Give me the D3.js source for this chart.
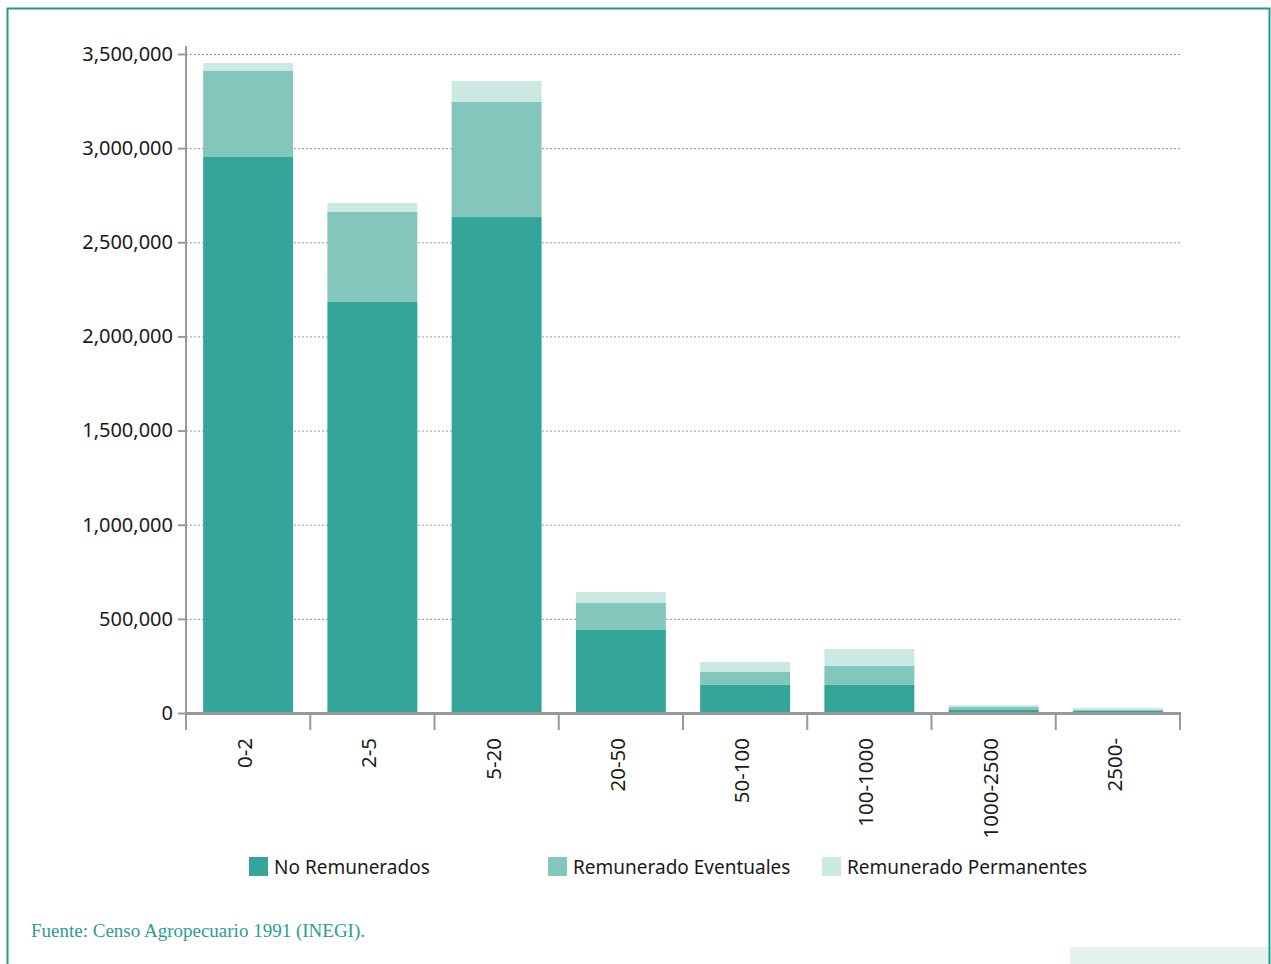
<!DOCTYPE html>
<html><head><meta charset="utf-8">
<script src="https://cdn.jsdelivr.net/npm/d3@7"></script>
<style>
html,body{margin:0;padding:0;background:#fff;}
svg{display:block;}
</style></head>
<body>
<svg id="chart" width="1271" height="964"></svg>
<script>
const categories = ["0-2","2-5","5-20","20-50","50-100","100-1000","1000-2500","2500-"];
const seriesNames = ["No Remunerados","Remunerado Eventuales","Remunerado Permanentes"];
const noRemunerados = [2953000, 2183000, 2634000, 441000, 149000, 149000, 16000, 11000];
const eventuales    = [ 457000,  478000,  611000, 143000,  69000, 101000, 16000,  5000];
const permanentes   = [  42000,   48000,  112000,  58000,  53000,  90000, 10000, 11000];
const yTicks = [0, 500000, 1000000, 1500000, 2000000, 2500000, 3000000, 3500000];
const colors = ["#33a599", "#82c6bc", "#cce8e3"];
const sourceText = "Fuente: Censo Agropecuario 1991 (INEGI).";

const svg = d3.select("#chart");
const font = "'Noto Sans', 'Open Sans', sans-serif";

// frame
svg.append("rect").attr("x",1070).attr("y",947).attr("width",200).attr("height",20).attr("fill","#e5f3f0");
svg.append("path").attr("d","M7.5,964 L7.5,8.5 L1269.5,8.5 L1269.5,964")
  .attr("fill","none").attr("stroke","#1f9a8b").attr("stroke-width",2);

const x0 = 186, x1 = 1180, yBase = 713, yTop = 54;
const x = d3.scaleBand().domain(categories).range([x0, x1]).paddingInner(0.276).paddingOuter(0.138);
const y = d3.scaleLinear().domain([0, 3500000]).range([yBase, yTop]);

// gridlines
svg.append("g").selectAll("line").data(yTicks.filter(d=>d>0)).join("line")
  .attr("x1", x0).attr("x2", x1).attr("y1", d=>y(d)+0.5).attr("y2", d=>y(d)+0.5)
  .attr("stroke","#9a9a9a").attr("stroke-width",1).attr("stroke-dasharray","2,2");

// stacked bars
const rows = categories.map((c,i)=>({cat:c, "No Remunerados":noRemunerados[i], "Remunerado Eventuales":eventuales[i], "Remunerado Permanentes":permanentes[i]}));
const stacked = d3.stack().keys(seriesNames)(rows);
svg.append("g").selectAll("g").data(stacked).join("g").attr("fill",(d,i)=>colors[i])
  .selectAll("rect").data(d=>d).join("rect")
  .attr("x", d=>x(d.data.cat)).attr("width", x.bandwidth())
  .attr("y", d=>y(d[1])).attr("height", d=>y(d[0])-y(d[1]));

// y axis
const yAxis = svg.append("g").attr("transform",`translate(${x0},0)`)
  .call(d3.axisLeft(y).tickValues(yTicks).tickFormat(d3.format(",")).tickSize(8).tickPadding(5));
yAxis.select(".domain").remove();
yAxis.selectAll(".tick line").attr("stroke","#999").attr("stroke-width",2);
yAxis.selectAll("text").attr("font-family",font).attr("font-size",20).attr("fill","#1a1a1a");
svg.append("line").attr("x1",x0).attr("x2",x0).attr("y1",46).attr("y2",730)
  .attr("stroke","#999").attr("stroke-width",2);

// x axis
svg.append("line").attr("x1",x0).attr("x2",x1+1).attr("y1",yBase+0.5).attr("y2",yBase+0.5)
  .attr("stroke","#999").attr("stroke-width",3);
const step = x.step();
const bounds = d3.range(categories.length+1).map(i=>x0+i*step);
svg.append("g").selectAll("line").data(bounds).join("line")
  .attr("x1",d=>d).attr("x2",d=>d).attr("y1",yBase).attr("y2",730)
  .attr("stroke","#999").attr("stroke-width",2);
svg.append("g").selectAll("text").data(categories).join("text")
  .attr("transform", d=>`translate(${x(d)+x.bandwidth()/2+4},738) rotate(-90)`)
  .attr("text-anchor","end")
  .attr("font-family",font).attr("font-size",20.5).attr("fill","#1a1a1a")
  .text(d=>d);

// legend
const legendX = [249, 548, 822];
const lg = svg.append("g").selectAll("g").data(seriesNames).join("g")
  .attr("transform",(d,i)=>`translate(${legendX[i]},857)`);
lg.append("rect").attr("width",19).attr("height",19).attr("fill",(d,i)=>colors[i]);
lg.append("text").attr("x",25).attr("y",17).attr("font-family",font).attr("font-size",19)
  .attr("fill","#1a1a1a").text(d=>d);

// source
svg.append("text").attr("x",31).attr("y",937)
  .attr("font-family","'Liberation Serif', 'DejaVu Serif', serif").attr("font-size",19)
  .attr("fill","#2a9d8f").text(sourceText);
</script>
</body></html>
